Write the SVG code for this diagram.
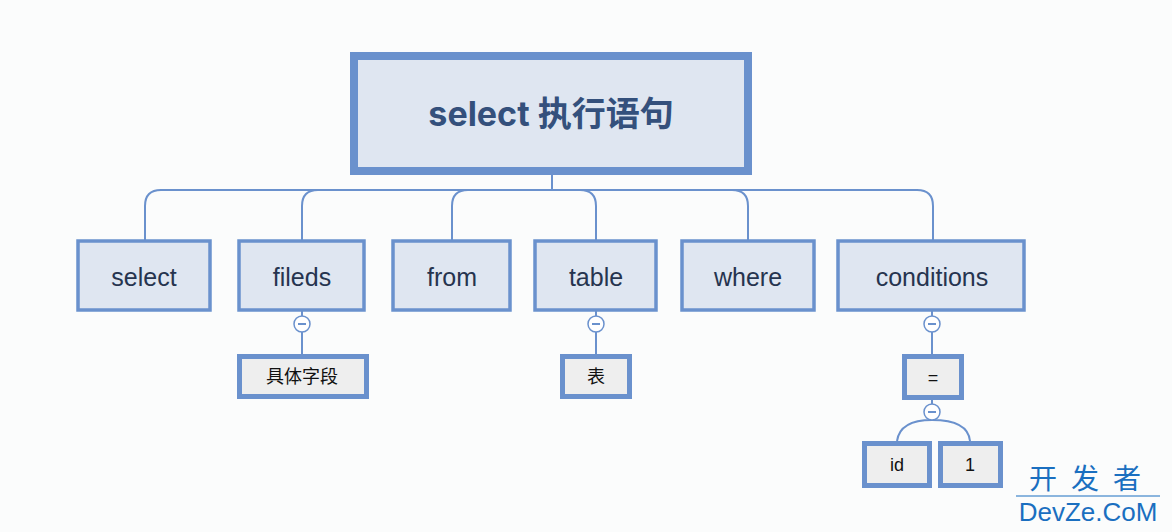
<svg xmlns="http://www.w3.org/2000/svg" width="1172" height="532" viewBox="0 0 1172 532">
<style>
.l1{fill:#dfe6f1;stroke:#6a91cd;stroke-width:3.5}
.lf{fill:#eeeeee;stroke:#6a91cd;stroke-width:5}
.t1{font-family:"Liberation Sans","Noto Sans CJK SC",sans-serif;font-size:25px;fill:#26344f;text-anchor:middle}
.t2{font-family:"Liberation Sans","Noto Sans CJK SC",sans-serif;font-size:18px;fill:#111;text-anchor:middle}
.c{fill:none;stroke:#6a91cd;stroke-width:2}
.ci{fill:#fff;stroke:#6a91cd;stroke-width:1.5}
</style>
<rect width="1172" height="532" fill="#fbfcfc"/>
<g id="connectors">
<path class="c" d="M552 175V190M145 240V206Q145 190 161 190H917Q933 190 933 206V240M302 240V206Q302 190 318 190M452 240V206Q452 190 468 190M580 190Q596 190 596 206V240M732 190Q748 190 748 206V240"/>
<path class="c" d="M302 311V354M596 311V354M932 311V354M932 400V420M932 420Q900 420 897 441M932 420Q968 420 970 441"/>
<g><circle class="ci" cx="302" cy="324" r="8"/><path class="c" d="M298 324h8" stroke-width="1.2"/></g>
<g><circle class="ci" cx="596" cy="324" r="8"/><path class="c" d="M592 324h8" stroke-width="1.2"/></g>
<g><circle class="ci" cx="932" cy="324" r="8"/><path class="c" d="M928 324h8" stroke-width="1.2"/></g>
<g><circle class="ci" cx="932" cy="412" r="8"/><path class="c" d="M928 412h8" stroke-width="1.2"/></g>
</g>
<g id="root"><rect x="354" y="56" width="394" height="115" fill="#dfe6f1" stroke="#6a91cd" stroke-width="8"/><text x="551" y="126" font-family="Inter,'Noto Sans CJK SC',sans-serif" font-size="34" font-weight="bold" fill="#34507c" text-anchor="middle">select 执行语句</text></g>
<g id="n-select"><rect class="l1" x="78" y="241" width="132" height="69"/><text class="t1" x="144" y="286">select</text></g>
<g id="n-fileds"><rect class="l1" x="239" y="241" width="125" height="69"/><text class="t1" x="302" y="286">fileds</text></g>
<g id="n-from"><rect class="l1" x="393" y="241" width="117" height="69"/><text class="t1" x="452" y="286">from</text></g>
<g id="n-table"><rect class="l1" x="535" y="241" width="121" height="69"/><text class="t1" x="596" y="286">table</text></g>
<g id="n-where"><rect class="l1" x="682" y="241" width="132" height="69"/><text class="t1" x="748" y="286">where</text></g>
<g id="n-conditions"><rect class="l1" x="838" y="241" width="186" height="69"/><text class="t1" x="932" y="286">conditions</text></g>
<g id="n-fields-leaf"><rect class="lf" x="239.5" y="356.5" width="127" height="40"/><text class="t2" x="302" y="383">具体字段</text></g>
<g id="n-table-leaf"><rect class="lf" x="562.5" y="356.5" width="67" height="40"/><text class="t2" x="596" y="383">表</text></g>
<g id="n-eq"><rect class="lf" x="904.5" y="356.5" width="57" height="41"/><text class="t2" x="933" y="384">=</text></g>
<g id="n-id"><rect class="lf" x="864.5" y="443.5" width="65" height="42"/><text class="t2" x="897" y="471">id</text></g>
<g id="n-1"><rect class="lf" x="940.5" y="443.5" width="60" height="42"/><text class="t2" x="970" y="471">1</text></g>
<g id="watermark" font-family="'Liberation Sans','Noto Sans CJK SC',sans-serif" fill="#1a6fc0">
<text x="1092" y="489" font-size="28" text-anchor="middle" letter-spacing="14">开发者</text>
<line x1="1016" y1="496" x2="1160" y2="496" stroke="#1a6fc0" stroke-width="1"/>
<text x="1088" y="521" font-size="26" text-anchor="middle">DevZe.CoM</text>
</g>
</svg>
